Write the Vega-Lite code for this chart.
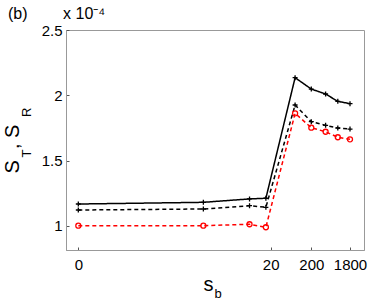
{
  "$schema": "https://vega.github.io/schema/vega-lite/v6.json",
  "width": 298,
  "height": 220,
  "autosize": "none",
  "padding": {"left": 66, "top": 30, "right": 10, "bottom": 55},
  "title": {
    "text": "(b)\u00A0\u00A0\u00A0\u00A0\u00A0\u00A0\u00A0\u00A0x 10\u207B\u2074",
    "anchor": "start",
    "frame": "group",
    "dx": -58,
    "dy": 17,
    "offset": 5,
    "baseline": "alphabetic",
    "fontSize": 16,
    "fontWeight": "normal",
    "font": "Liberation Sans",
    "color": "black"
  },
  "data": {
    "values": [
      {"series": "ST", "sb": 0, "S": 1.168},
      {"series": "ST", "sb": 13, "S": 1.181},
      {"series": "ST", "sb": 17.8, "S": 1.207},
      {"series": "ST", "sb": 19.5, "S": 1.212},
      {"series": "ST", "sb": 80, "S": 2.135},
      {"series": "ST", "sb": 200, "S": 2.048},
      {"series": "ST", "sb": 450, "S": 2.010},
      {"series": "ST", "sb": 900, "S": 1.954},
      {"series": "ST", "sb": 1800, "S": 1.936},
      {"series": "SR", "sb": 0, "S": 1.122},
      {"series": "SR", "sb": 13, "S": 1.130},
      {"series": "SR", "sb": 17.8, "S": 1.155},
      {"series": "SR", "sb": 19.5, "S": 1.143},
      {"series": "SR", "sb": 80, "S": 1.926},
      {"series": "SR", "sb": 200, "S": 1.798},
      {"series": "SR", "sb": 450, "S": 1.770},
      {"series": "SR", "sb": 900, "S": 1.750},
      {"series": "SR", "sb": 1800, "S": 1.742},
      {"series": "red", "sb": 0, "S": 1.002},
      {"series": "red", "sb": 13, "S": 1.002},
      {"series": "red", "sb": 17.8, "S": 1.013},
      {"series": "red", "sb": 19.5, "S": 0.990},
      {"series": "red", "sb": 80, "S": 1.862},
      {"series": "red", "sb": 200, "S": 1.752},
      {"series": "red", "sb": 450, "S": 1.721},
      {"series": "red", "sb": 900, "S": 1.679},
      {"series": "red", "sb": 1800, "S": 1.663}
    ]
  },
  "layer": [
    {
      "mark": {"type": "line", "strokeWidth": 1.5},
      "encoding": {
        "x": {
          "field": "sb",
          "type": "quantitative",
          "scale": {
            "domain": [-1.28, 20, 80, 200, 450, 900, 1800, 3972],
            "range": [0, 204.7, 229.1, 245.3, 259.6, 271.8, 284.0, 298],
            "nice": false,
            "zero": false
          },
          "axis": {
            "orient": "bottom",
            "values": [0, 20, 200, 1800],
            "format": "d",
            "tickSize": -3,
            "labelPadding": 10,
            "title": "s",
            "titleFontSize": 20,
            "titleX": 137,
            "titleY": 40,
            "titleAlign": "left",
            "titleBaseline": "alphabetic",
            "titleAngle": 0
          }
        },
        "y": {
          "field": "S",
          "type": "quantitative",
          "scale": {"domain": [0.816, 2.5], "nice": false, "zero": false},
          "axis": {
            "orient": "left",
            "values": [1, 1.5, 2, 2.5],
            "format": ".1~f",
            "tickSize": -3,
            "labelPadding": 7,
            "title": "S\u00A0\u00A0,\u00A0S",
            "titleFontSize": 20,
            "titleAngle": 270,
            "titleAlign": "left",
            "titleBaseline": "alphabetic",
            "titleX": -48,
            "titleY": 143
          }
        },
        "color": {
          "field": "series",
          "type": "nominal",
          "scale": {"domain": ["ST", "SR", "red"], "range": ["#000000", "#000000", "#ff0000"]},
          "legend": null
        },
        "strokeDash": {
          "field": "series",
          "type": "nominal",
          "scale": {"domain": ["ST", "SR", "red"], "range": [[1, 0], [4, 3], [4, 3]]},
          "legend": null
        }
      }
    },
    {
      "mark": {"type": "point", "filled": false, "strokeWidth": 1.3, "opacity": 1},
      "encoding": {
        "x": {
          "field": "sb",
          "type": "quantitative",
          "axis": {
            "orient": "top",
            "labels": false,
            "ticks": false,
            "domain": false,
            "grid": false,
            "title": "b",
            "titleFontSize": 13,
            "titleX": 148,
            "titleY": 267,
            "titleAlign": "left",
            "titleBaseline": "alphabetic",
            "titleAngle": 0
          }
        },
        "y": {
          "field": "S",
          "type": "quantitative",
          "axis": {
            "orient": "right",
            "labels": false,
            "ticks": false,
            "domain": false,
            "grid": false,
            "title": "T\u00A0\u00A0\u00A0\u00A0\u00A0\u00A0\u00A0\u00A0\u00A0R",
            "titleFontSize": 13,
            "titleAngle": 270,
            "titleAlign": "left",
            "titleBaseline": "alphabetic",
            "titleX": -334,
            "titleY": 127
          }
        },
        "color": {
          "field": "series",
          "type": "nominal",
          "scale": {"domain": ["ST", "SR", "red"], "range": ["#000000", "#000000", "#ff0000"]},
          "legend": null
        },
        "shape": {
          "field": "series",
          "type": "nominal",
          "scale": {"domain": ["ST", "SR", "red"], "range": ["M-1,0H1M0,-1V1", "M-1,0H1M0,-1V1", "circle"]},
          "legend": null
        },
        "size": {"value": 25}
      }
    }
  ],
  "resolve": {"axis": {"x": "independent", "y": "independent"}},
  "config": {
    "font": "Liberation Sans",
    "view": {"stroke": "#999999", "strokeWidth": 1},
    "axis": {
      "grid": false,
      "domainColor": "#999999",
      "tickColor": "#555555",
      "labelColor": "#000000",
      "titleColor": "#000000",
      "labelFont": "Liberation Sans",
      "titleFont": "Liberation Sans",
      "labelFontSize": 15,
      "titleFontWeight": "normal"
    }
  }
}
